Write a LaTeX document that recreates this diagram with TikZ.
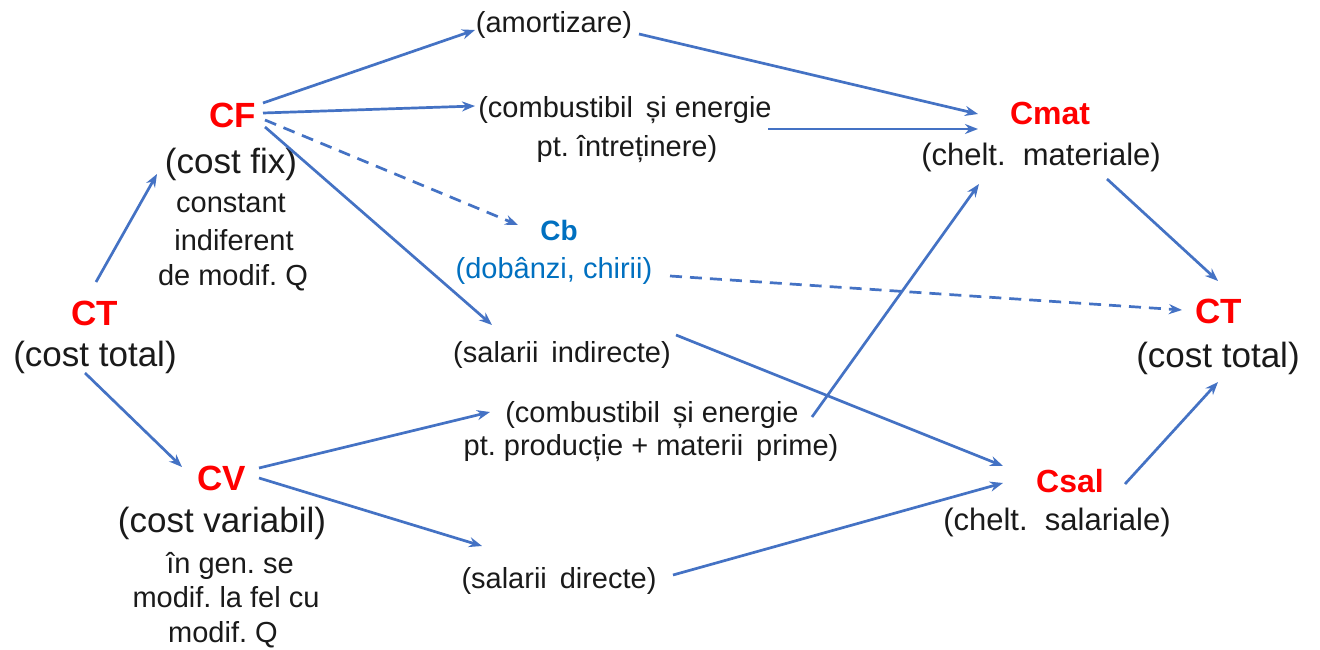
\documentclass[tikz,border=0pt]{standalone}
\usepackage{fontspec}
\setmainfont{Liberation Sans}
\usetikzlibrary{arrows.meta,calc}
\definecolor{ln}{HTML}{4472C4}
\definecolor{rd}{HTML}{FF0000}
\definecolor{bl}{HTML}{0070C0}
\definecolor{tx}{HTML}{1A1A1A}
\frenchspacing
\begin{document}
\begin{tikzpicture}[x=1pt,y=-1pt,
  txt/.style={inner sep=0,anchor=base,text=tx,font=\fontsize{29}{34}\selectfont},
  mid/.style={inner sep=0,anchor=base,text=tx,font=\fontsize{31}{36}\selectfont},
  big/.style={inner sep=0,anchor=base,text=tx,font=\fontsize{35}{41}\selectfont},
  ttl/.style={inner sep=0,anchor=base,text=rd,font=\fontsize{35}{41}\selectfont\bfseries},
  ttls/.style={inner sep=0,anchor=base,text=rd,font=\fontsize{32}{38}\selectfont\bfseries},
  ttlb/.style={inner sep=0,anchor=base,text=bl,font=\fontsize{28}{34}\selectfont\bfseries},
  arr/.style={draw=ln,line width=2.7pt,-{Stealth[length=13pt,width=10pt]}},
  darr/.style={arr,dash pattern=on 12pt off 8pt}]
\useasboundingbox (0,0) rectangle (1320,650);
\fill[white] (0,0) rectangle (1320,650);
% nodes
\node[ttl] (CTl) at (95,325) {CT};
\node[big] (CTld) at (95,366) {(cost total)};
\node[ttl] (CF) at (233,128) {CF};
\node[big] (CFd) at (231,173) {(cost fix)};
\node[txt] (CF1) at (231,212) {constant};
\node[txt] (CF2) at (234,250) {indiferent};
\node[txt] (CF3) at (233,285) {de modif. Q};
\node[ttl] (CV) at (222,490) {CV};
\node[big] (CVd) at (222,532) {(cost variabil)};
\node[txt] (CV1) at (230,573) {în gen. se};
\node[txt] (CV2) at (226,607) {modif. la fel cu};
\node[txt] (CV3) at (223,642) {modif. Q};
\node[txt] (AM) at (554,33) {(amortizare)};
\node[txt] (CI1) at (625,118) {(combustibil\ \,și energie};
\node[txt] (CI2) at (627,157) {pt. întreținere)};
\node[ttlb] (CB) at (559,240) {Cb};
\node[txt,text=bl] (CBd) at (554,278) {(dobânzi, chirii)};
\node[txt] (SI) at (562,362) {(salarii\ \,indirecte)};
\node[txt] (CP1) at (652,422) {(combustibil\ \,și energie};
\node[txt] (CP2) at (651,455) {pt. producție + materii\ \,prime)};
\node[txt] (SD) at (559,588) {(salarii\ \,directe)};
\node[ttls] (CM) at (1050,125) {Cmat};
\node[mid] (CMd) at (1041,165) {(chelt.\ \ materiale)};
\node[ttls] (CS) at (1070,492) {Csal};
\node[mid] (CSd) at (1057,530) {(chelt.\ \ salariale)};
\node[ttl] (CTr) at (1219,323) {CT};
\node[big] (CTrd) at (1218,367) {(cost total)};
% connectors
\draw[arr] ($(CTl.base)+(1,-43)$) -- ($(CFd.base)+(-74,1)$);
\draw[arr] ($(CTld.base)+(-10,7)$) -- ($(CV.base)+(-40,-23)$);
\draw[arr] ($(CF.base)+(30,-25)$) -- ($(AM.base)+(-79,-3)$);
\draw[arr] ($(CF.base)+(30,-15)$) -- ($(CI1.base)+(-150,-12)$);
\draw[darr] ($(CF.base)+(32,-8)$) -- ($(CB.base)+(-41,-15)$);
\draw[arr] ($(CF.base)+(32,-1)$) -- ($(SI.base)+(-70,-37)$);
\draw[arr] ($(CV.base)+(37,-22)$) -- ($(CP1.base)+(-162,-10)$);
\draw[arr] ($(CV.base)+(37,-12)$) -- ($(SD.base)+(-77,-42)$);
\draw[arr] ($(AM.base)+(85,1)$) -- ($(CM.base)+(-72,-11)$);
\draw[arr] ($(CI1.base)+(143,11)$) -- ($(CM.base)+(-72,4)$);
\draw[arr] ($(CP1.base)+(160,-5)$) -- ($(CMd.base)+(-62,19)$);
\draw[darr] ($(CBd.base)+(116,-2)$) -- ($(CTr.base)+(-37,-13)$);
\draw[arr] ($(SI.base)+(114,-27)$) -- ($(CS.base)+(-67,-26)$);
\draw[arr] ($(SD.base)+(114,-13)$) -- ($(CS.base)+(-67,-9)$);
\draw[arr] ($(CMd.base)+(66,14)$) -- ($(CTr.base)+(-1,-42)$);
\draw[arr] ($(CS.base)+(55,-8)$) -- ($(CTrd.base)+(0,15)$);
\end{tikzpicture}
\end{document}
